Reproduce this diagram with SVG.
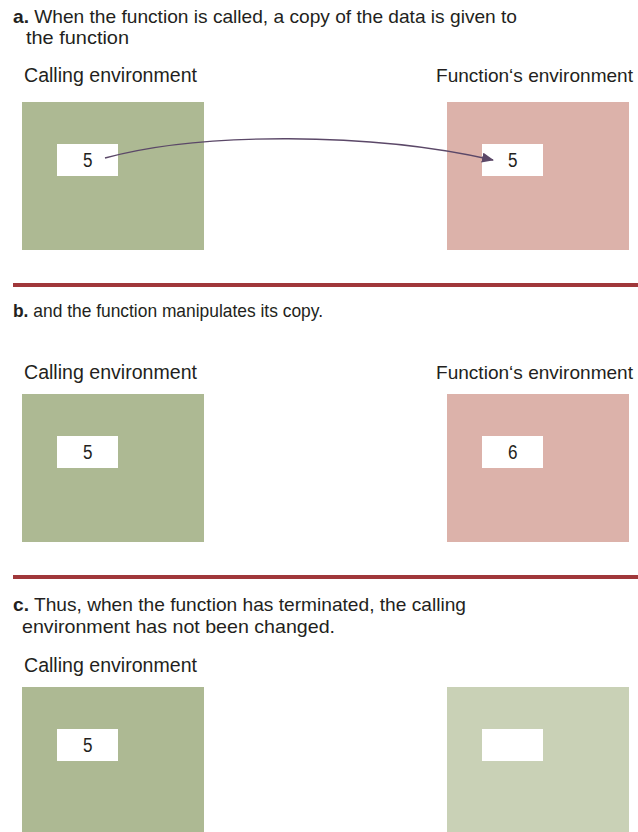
<svg xmlns="http://www.w3.org/2000/svg" width="638" height="832" viewBox="0 0 638 832">
<style>
  text { font-family: "Liberation Sans", Arial, sans-serif; fill: #231f20; }
  .cap { font-size: 18.5px; }
  .lbl { font-size: 20.5px; }
  .lbl2 { font-size: 19px; }
  .num { font-size: 20px; }
  .b { font-weight: bold; }
  .green { fill: #adb993; }
  .pink { fill: #dcb2aa; }
  .pale { fill: #c9d1b6; }
  .cell { fill: #ffffff; }
  .rule { stroke: #a0373a; stroke-width: 4; }
</style>
<defs>
  <marker id="ah" markerWidth="12" markerHeight="10" refX="11" refY="5" orient="auto" markerUnits="userSpaceOnUse">
    <path d="M0,0 L12,5 L0,10 Z" fill="#5b4868"/>
  </marker>
</defs>

<!-- Panel a -->
<g id="caption-a">
  <text class="cap" x="13" y="23" textLength="504" lengthAdjust="spacingAndGlyphs"><tspan class="b">a.</tspan> When the function is called, a copy of the data is given to</text>
  <text class="cap" x="26" y="44" textLength="103" lengthAdjust="spacingAndGlyphs">the function</text>
</g>
<g id="calling-a">
  <text class="lbl" x="24" y="82" textLength="173" lengthAdjust="spacingAndGlyphs">Calling environment</text>
  <rect class="green" x="22" y="102" width="182" height="148"/>
  <rect class="cell" x="57" y="144" width="61" height="32"/>
  <text class="num" x="83" y="167" textLength="9.5" lengthAdjust="spacingAndGlyphs">5</text>
</g>
<g id="function-a">
  <text class="lbl2" x="436" y="82" textLength="197" lengthAdjust="spacingAndGlyphs">Function‘s environment</text>
  <rect class="pink" x="447" y="102" width="182" height="148"/>
  <rect class="cell" x="482" y="144" width="61" height="32"/>
  <text class="num" x="508" y="167" textLength="9.5" lengthAdjust="spacingAndGlyphs">5</text>
</g>
<line class="rule" x1="13" y1="285" x2="638" y2="285"/>

<!-- Panel b -->
<g id="caption-b">
  <text class="cap" x="13" y="317" textLength="310" lengthAdjust="spacingAndGlyphs"><tspan class="b">b.</tspan> and the function manipulates its copy.</text>
</g>
<g id="calling-b">
  <text class="lbl" x="24" y="379" textLength="173" lengthAdjust="spacingAndGlyphs">Calling environment</text>
  <rect class="green" x="22" y="394" width="182" height="148"/>
  <rect class="cell" x="57" y="436" width="61" height="32"/>
  <text class="num" x="83" y="459" textLength="9.5" lengthAdjust="spacingAndGlyphs">5</text>
</g>
<g id="function-b">
  <text class="lbl2" x="436" y="379" textLength="197" lengthAdjust="spacingAndGlyphs">Function‘s environment</text>
  <rect class="pink" x="447" y="394" width="182" height="148"/>
  <rect class="cell" x="482" y="436" width="61" height="32"/>
  <text class="num" x="508" y="459" textLength="9.5" lengthAdjust="spacingAndGlyphs">6</text>
</g>
<line class="rule" x1="13" y1="577" x2="638" y2="577"/>

<!-- Panel c -->
<g id="caption-c">
  <text class="cap" x="13" y="611" textLength="453" lengthAdjust="spacingAndGlyphs"><tspan class="b">c.</tspan> Thus, when the function has terminated, the calling</text>
  <text class="cap" x="22" y="633" textLength="313" lengthAdjust="spacingAndGlyphs">environment has not been changed.</text>
</g>
<g id="calling-c">
  <text class="lbl" x="24" y="672" textLength="173" lengthAdjust="spacingAndGlyphs">Calling environment</text>
  <rect class="green" x="22" y="687" width="182" height="148"/>
  <rect class="cell" x="57" y="729" width="61" height="32"/>
  <text class="num" x="83" y="752" textLength="9.5" lengthAdjust="spacingAndGlyphs">5</text>
</g>
<g id="function-c">
  <rect class="pale" x="447" y="687" width="182" height="148"/>
  <rect class="cell" x="482" y="729" width="61" height="32"/>
</g>

<g id="connectors">
  <path d="M105,158 C200,132 370,132 493,160" fill="none" stroke="#5b4868" stroke-width="1.4" marker-end="url(#ah)"/>
</g>
</svg>
